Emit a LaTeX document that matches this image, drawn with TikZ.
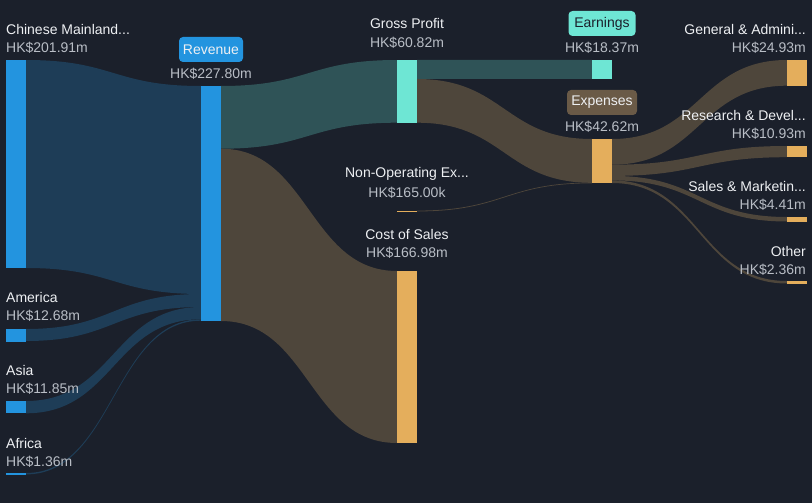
\documentclass[tikz,border=0pt]{standalone}
\usepackage{fontspec}
\setmainfont{Liberation Sans}
\definecolor{bg}{RGB}{27,32,43}
\definecolor{barblue}{RGB}{35,148,223}
\definecolor{barteal}{RGB}{110,230,212}
\definecolor{barorange}{RGB}{228,174,92}
\definecolor{flowblue}{RGB}{30,61,87}
\definecolor{flowteal}{RGB}{47,83,87}
\definecolor{flowbrown}{RGB}{78,70,59}
\definecolor{namecol}{RGB}{238,240,243}
\definecolor{valcol}{RGB}{185,190,198}
\definecolor{expbox}{RGB}{106,90,71}
\newcommand{\sflow}[7]{%
  \pgfmathsetmacro{\xm}{(#1+#4)/2}%
  \fill[#7] (#1,#2) .. controls (\xm,#2) and (\xm,#5) .. (#4,#5) -- (#4,#6) .. controls (\xm,#6) and (\xm,#3) .. (#1,#3) -- cycle;}
\tikzset{
  bar/.style={inner sep=0pt, outer sep=0pt, minimum width=20pt, anchor=north west},
  lname/.style={text=namecol, font=\fontsize{14}{16}\selectfont, inner sep=0pt},
  lval/.style={text=valcol, font=\fontsize{14}{16}\selectfont, inner sep=0pt},
  tag/.style={rounded corners=4pt, font=\fontsize{14}{16}\selectfont, inner sep=0pt, minimum height=25pt}
}
\begin{document}
\begin{tikzpicture}[x=1pt,y=-1pt]
\fill[bg] (0,0) rectangle (812,503);
\useasboundingbox (0,0) rectangle (812,503);
% flows
\sflow{26}{60}{268}{201}{86}{294}{flowblue}
\sflow{26}{329}{341}{201}{294}{307}{flowblue}
\sflow{26}{401}{413.3}{201}{307}{319.3}{flowblue}
\sflow{26}{473}{474.4}{201}{319.3}{320.7}{flowblue}
\sflow{221}{86}{148.7}{397}{60}{122.7}{flowteal}
\sflow{221}{148.7}{321}{397}{271}{443}{flowbrown}
\sflow{417}{60}{79}{592}{60}{79}{flowteal}
\sflow{417}{79}{122.7}{592}{139}{182.8}{flowbrown}
\sflow{417}{210.6}{211.4}{592}{182.6}{183.3}{flowbrown}
\sflow{612}{139}{164.7}{787}{60}{85.7}{flowbrown}
\sflow{612}{164.7}{175.9}{787}{146}{157.2}{flowbrown}
\sflow{612}{175.9}{180.4}{787}{217}{221.5}{flowbrown}
\sflow{612}{180.4}{183}{787}{281}{283.5}{flowbrown}
% bars
\node[bar, fill=barblue, minimum height=208pt] (cm) at (6,60) {};
\node[bar, fill=barblue, minimum height=12.5pt] (am) at (6,329) {};
\node[bar, fill=barblue, minimum height=12.3pt] (as) at (6,401) {};
\node[bar, fill=barblue, minimum height=1.6pt] (af) at (6,473) {};
\node[bar, fill=barblue, minimum height=235pt] (rev) at (201,86) {};
\node[bar, fill=barteal, minimum height=62.7pt] (gp) at (397,60) {};
\node[bar, fill=barorange, minimum height=172pt] (cos) at (397,271) {};
\node[bar, fill=barorange, minimum height=1pt] (nop) at (397,210.5) {};
\node[bar, fill=barteal, minimum height=19pt] (earn) at (592,60) {};
\node[bar, fill=barorange, minimum height=44pt] (exp) at (592,139) {};
\node[bar, fill=barorange, minimum height=25.7pt] (ga) at (787,60) {};
\node[bar, fill=barorange, minimum height=11.2pt] (rd) at (787,146) {};
\node[bar, fill=barorange, minimum height=4.5pt] (sm) at (787,217) {};
\node[bar, fill=barorange, minimum height=2.5pt] (oth) at (787,281) {};
% labels
\node[lname, anchor=west] (cmn) at (6,29) {Chinese Mainland...};
\node[lval, anchor=west] (cmv) at (6,47.5) {HK\$201.91m};
\node[lname, anchor=west] (amn) at (6,297) {America};
\node[lval, anchor=west] (amv) at (6,316) {HK\$12.68m};
\node[lname, anchor=west] (asn) at (6,370) {Asia};
\node[lval, anchor=west] (asv) at (6,389) {HK\$11.85m};
\node[lname, anchor=west] (afn) at (6,443) {Africa};
\node[lval, anchor=west] (afv) at (6,462) {HK\$1.36m};
\node[tag, fill=barblue, text=namecol, minimum width=64pt] (revn) at (211,49.5) {Revenue};
\node[lval] (revv) at (211,74) {HK\$227.80m};
\node[lname] (gpn) at (407,23) {Gross Profit};
\node[lval] (gpv) at (407,42.5) {HK\$60.82m};
\node[lname] (nopn) at (407,174) {Non-Operating Ex...};
\node[lval] (nopv) at (407,193) {HK\$165.00k};
\node[lname] (cosn) at (407,234) {Cost of Sales};
\node[lval] (cosv) at (407,253) {HK\$166.98m};
\node[tag, fill=barteal, text=bg, minimum width=67pt] (earnn) at (602,23.5) {Earnings};
\node[lval] (earnv) at (602,48) {HK\$18.37m};
\node[tag, fill=expbox, text=namecol, minimum width=70pt] (expn) at (602,102.5) {Expenses};
\node[lval] (expv) at (602,127) {HK\$42.62m};
\node[lname, anchor=east] (gan) at (806,29) {General \& Admini...};
\node[lval, anchor=east] (gav) at (806,48) {HK\$24.93m};
\node[lname, anchor=east] (rdn) at (806,115.5) {Research \& Devel...};
\node[lval, anchor=east] (rdv) at (806,134) {HK\$10.93m};
\node[lname, anchor=east] (smn) at (806,186) {Sales \& Marketin...};
\node[lval, anchor=east] (smv) at (806,205) {HK\$4.41m};
\node[lname, anchor=east] (othn) at (806,251) {Other};
\node[lval, anchor=east] (othv) at (806,270) {HK\$2.36m};
\end{tikzpicture}
\end{document}
